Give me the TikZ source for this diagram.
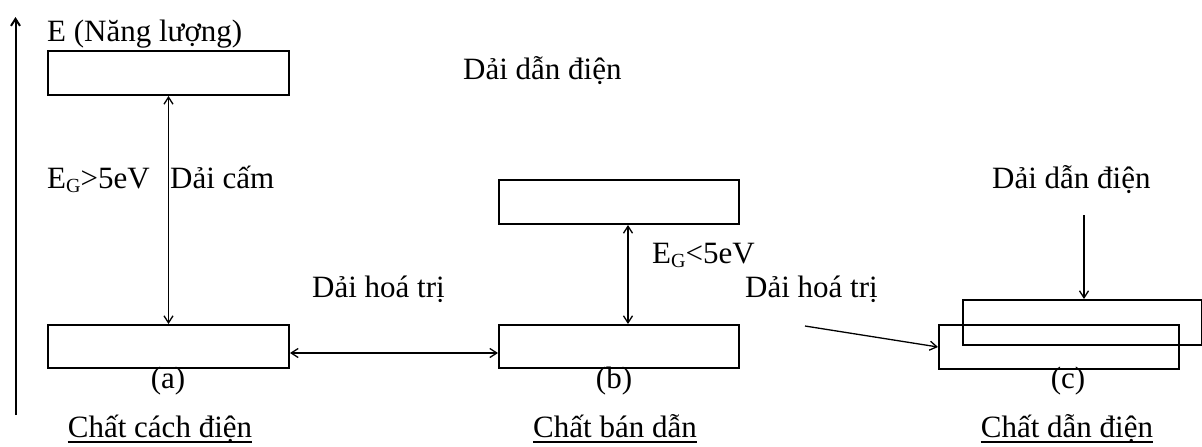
\documentclass[tikz,border=0pt]{standalone}
\usepackage{fontspec}
\setmainfont{Liberation Serif}
\usetikzlibrary{arrows.meta}
\newcommand{\subG}{\raisebox{-4pt}{\fontsize{20}{20}\selectfont G}}
\begin{document}
\begin{tikzpicture}[x=1pt,y=-1pt,
  band/.style={draw, line width=2pt, minimum height=44pt, inner sep=0pt, anchor=north west},
  lbl/.style={inner sep=0pt, anchor=base west, font=\fontsize{31}{36}\selectfont},
  ttl/.style={lbl, anchor=base},
  tip/.style={Straight Barb[length=7pt,width=9pt]},
  conn/.style={line width=1.3pt, -{Straight Barb[length=7pt,width=9pt]}},
  dconn/.style={line width=1.3pt, {Straight Barb[length=7pt,width=9pt]}-{Straight Barb[length=7pt,width=9pt]}},
  axis/.style={line width=2pt, -{Straight Barb[length=7pt,width=9pt]}},
  uline/.style={line width=1.5pt}
]
\useasboundingbox (0,0) rectangle (1202,447);
% bands
\node[band, minimum width=241pt] (aTop) at (47,50) {};
\node[band, minimum width=241pt, minimum height=43pt] (aBot) at (47,324) {};
\node[band, minimum width=240pt] (bTop) at (498,179) {};
\node[band, minimum width=240pt, minimum height=43pt] (bBot) at (498,324) {};
\node[band, minimum width=240pt] (cOne) at (938,324) {};
\node[band, minimum width=239pt, minimum height=45pt] (cTwo) at (962,299) {};
% labels
\node[lbl] (tE) at (47,41) {E (Năng lượng)};
\node[lbl] (tDan) at (463,79) {Dải dẫn điện};
\node[lbl] (tGa) at (47,188) {E\subG>5eV};
\node[lbl] (tCam) at (170,188) {Dải cấm};
\node[lbl] (tHTa) at (312,297) {Dải hoá trị};
\node[lbl] (tGb) at (652,263) {E\subG<5eV};
\node[lbl] (tHTb) at (745,297) {Dải hoá trị};
\node[lbl] (tDanc) at (992,188) {Dải dẫn điện};
\node[ttl] (la) at (168,388) {(a)};
\node[ttl] (lb) at (614,388) {(b)};
\node[ttl] (lc) at (1068,388) {(c)};
\node[ttl] (ta) at (160,437) {Chất cách điện};
\node[ttl] (tb) at (615,437) {Chất bán dẫn};
\node[ttl] (tc) at (1067,437) {Chất dẫn điện};
\foreach \n in {ta,tb,tc}{
  \draw[uline] ([yshift=-5pt]\n.base west) -- ([yshift=-5pt]\n.base east);
}
% axis
\coordinate (axBot) at (15.5,415);
\coordinate (axTop) at (15.5,17);
\draw[axis] (axBot) -- (axTop);
% connectors
\draw[dconn] (aTop.south) -- (aBot.north);
\coordinate (hy) at (0,353);
\draw[dconn] (aBot.east |- hy) -- (bBot.west |- hy);
\coordinate (bx) at (628,0);
\draw[dconn] (bTop.south -| bx) -- (bBot.north -| bx);
\coordinate (cStart) at (1084,215);
\draw[conn] (cStart) -- (cTwo.north -| cStart);
\coordinate (sStart) at (805,326);
\draw[conn] (sStart) -- (cOne.west);
\end{tikzpicture}
\end{document}
